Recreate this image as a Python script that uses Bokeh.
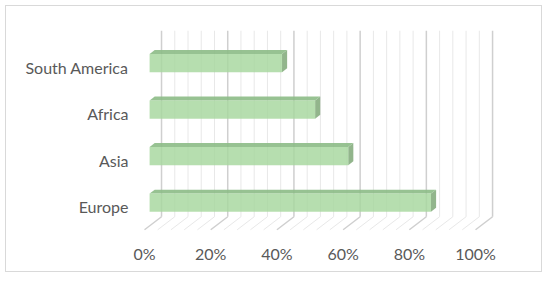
from bokeh.plotting import figure
from bokeh.models import FixedTicker, Range1d
from bokeh.embed import file_html
from bokeh.resources import INLINE

# ---- data ----
categories = ["Europe", "Asia", "Africa", "South America"]
values = [85, 60, 50, 40]
x_ticks = [0, 20, 40, 60, 80, 100]
x_tick_labels = ["0%", "20%", "40%", "60%", "80%", "100%"]
minor_step = 4

# ---- 3D style parameters (data units) ----
DX = 5.14   # depth offset in x (percent units)
DY = 0.28   # depth offset in y (category units)
F1, F2 = 0.30, 0.60  # bar front/back depth fractions
H = 0.195   # half bar height

p = figure(width=537, height=267, output_backend="svg", toolbar_location=None,
           x_range=Range1d(-1.813, 116.6), y_range=Range1d(-0.645, 4.0),
           min_border_left=132, min_border_right=13, min_border_top=14, min_border_bottom=37,
           background_fill_color="white", border_fill_color="white",
           styles={"border": "1px solid #d9d9d9", "margin": "5px 0 0 5px"})
p.outline_line_color = None
p.grid.visible = False

# gridlines: back wall + floor
grid_pos = list(range(0, 101, minor_step))
for major in (False, True):
    gp = [g for g in grid_pos if (g % 20 == 0) == major]
    col = "#cfcfcf" if major else "#e8e8e8"
    w = 1.5 if major else 1
    p.segment(x0=[g + DX for g in gp], y0=[-0.5 + DY] * len(gp),
              x1=[g + DX for g in gp], y1=[3.5 + DY] * len(gp),
              line_color=col, line_width=w)
    p.segment(x0=gp, y0=[-0.5] * len(gp),
              x1=[g + DX for g in gp], y1=[-0.5 + DY] * len(gp),
              line_color=col, line_width=w)

# bars
a = F1 * DX
ddx = (F2 - F1) * DX
ddy = (F2 - F1) * DY
front_xs, front_ys, top_xs, top_ys, side_xs, side_ys = [], [], [], [], [], []
for i, v in enumerate(values):
    bot = i - H + F1 * DY
    top = i + H + F1 * DY
    front_xs.append([a, a + v, a + v, a])
    front_ys.append([bot, bot, top, top])
    top_xs.append([a, a + v, a + v + ddx, a + ddx])
    top_ys.append([top, top, top + ddy, top + ddy])
    side_xs.append([a + v, a + v, a + v + ddx, a + v + ddx])
    side_ys.append([bot, top, top + ddy, bot + ddy])

p.patches(xs=side_xs, ys=side_ys, fill_color="#86ad7f", fill_alpha=0.9, line_color=None)
p.patches(xs=top_xs, ys=top_ys, fill_color="#8cbb86", fill_alpha=0.9, line_color=None)
p.patches(xs=front_xs, ys=front_ys, fill_color="#a6d79d", fill_alpha=0.82, line_color=None)

# axes
p.xaxis.ticker = FixedTicker(ticks=x_ticks)
p.xaxis.major_label_overrides = {t: l for t, l in zip(x_ticks, x_tick_labels)}
p.yaxis.ticker = FixedTicker(ticks=list(range(len(categories))))
p.yaxis.major_label_overrides = {i: c for i, c in enumerate(categories)}
for ax in (p.xaxis, p.yaxis):
    ax.axis_line_color = None
    ax.major_tick_line_color = None
    ax.minor_tick_line_color = None
    ax.major_tick_out = 0
    ax.major_tick_in = 0
    ax.minor_tick_out = 0
    ax.minor_tick_in = 0
    ax.major_label_text_font = "Lato"
    ax.major_label_text_font_size = "16px"
    ax.major_label_text_color = "#595959"
p.xaxis.major_label_standoff = 7
p.yaxis.major_label_standoff = 10

open("out.html", "w").write(file_html(p, INLINE))
